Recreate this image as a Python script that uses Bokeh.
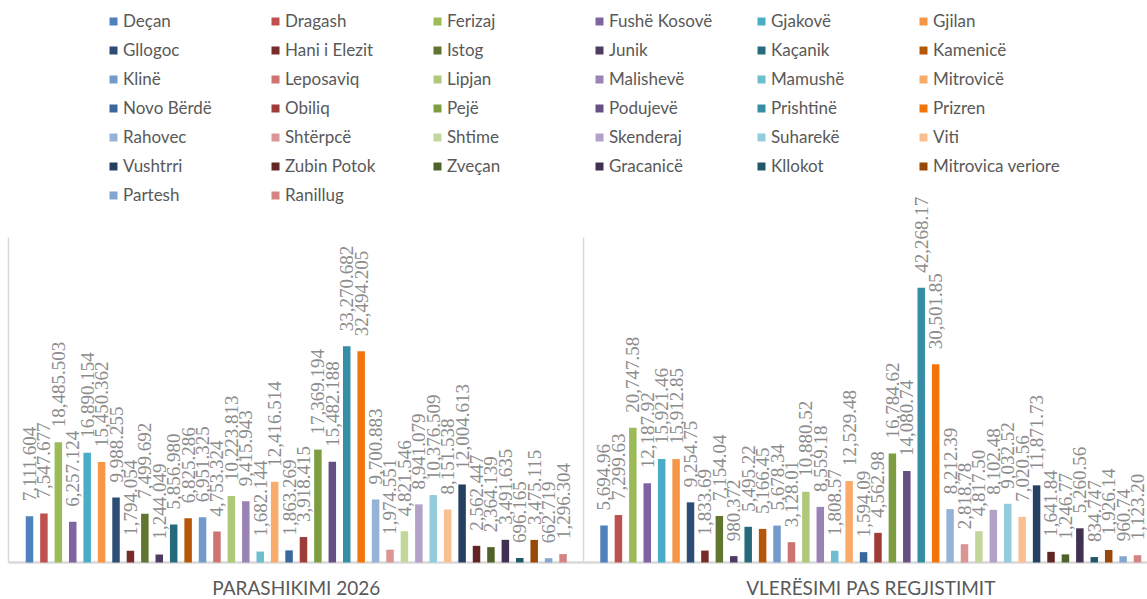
import colorsys
from bokeh.plotting import figure
from bokeh.models import ColumnDataSource, Range1d, Legend, LegendItem, LabelSet
from bokeh.core.properties import value
from bokeh.embed import file_html
from bokeh.resources import INLINE

# ---------------- data ----------------
municipalities = ["Deçan", "Dragash", "Ferizaj", "Fushë Kosovë", "Gjakovë", "Gjilan",
                  "Gllogoc", "Hani i Elezit", "Istog", "Junik", "Kaçanik", "Kamenicë",
                  "Klinë", "Leposaviq", "Lipjan", "Malishevë", "Mamushë", "Mitrovicë",
                  "Novo Bërdë", "Obiliq", "Pejë", "Podujevë", "Prishtinë", "Prizren",
                  "Rahovec", "Shtërpcë", "Shtime", "Skenderaj", "Suharekë", "Viti",
                  "Vushtrri", "Zubin Potok", "Zveçan", "Gracanicë", "Kllokot",
                  "Mitrovica veriore", "Partesh", "Ranillug"]

groups = ["PARASHIKIMI 2026", "VLERËSIMI PAS REGJISTIMIT"]

parashikimi_2026 = [7111.604, 7547.677, 18485.503, 6257.124, 16890.154, 15450.362,
                    9988.255, 1794.054, 7499.692, 1244.049, 5856.980, 6825.286,
                    6951.325, 4753.324, 10223.813, 9415.943, 1682.144, 12416.514,
                    1863.269, 3918.415, 17369.194, 15482.188, 33270.682, 32494.205,
                    9700.883, 1974.551, 4821.546, 8941.079, 10376.509, 8151.538,
                    12004.613, 2562.447, 2364.139, 3491.635, 696.165, 3475.115,
                    662.719, 1296.304]

vleresimi_pas_regjistrimit = [5694.96, 7299.63, 20747.58, 12187.92, 15921.46, 15912.85,
                              9254.75, 1833.69, 7154.04, 980.372, 5495.22, 5166.45,
                              5678.34, 3128.01, 10880.52, 8559.18, 1808.57, 12529.48,
                              1594.09, 4562.98, 16784.62, 14080.74, 42268.17, 30501.85,
                              8212.39, 2818.78, 4817.50, 8102.48, 9032.52, 7020.56,
                              11871.73, 1641.84, 1246.77, 5260.56, 834.747, 1926.14,
                              960.74, 1123.20]

# decimals shown in the data labels
decimals_2026 = [3] * 38
decimals_pas = [2, 2, 2, 2, 2, 2, 2, 2, 2, 3, 2, 2, 2, 2, 2, 2, 2, 2, 2,
                2, 2, 2, 2, 2, 2, 2, 2, 2, 2, 2, 2, 2, 2, 2, 3, 2, 2, 2]

# ---------------- style ----------------
ACCENTS = ["#4F81BD", "#C0504D", "#9BBB59", "#8064A2", "#4BACC6", "#F79646"]
VARIANTS = [(1.0, 0.0), (0.6, 0.0), (0.8, 0.2), (0.8, 0.0), (0.6, 0.4), (0.5, 0.0), (0.7, 0.3)]


def theme_color(i):
    hx = ACCENTS[i % 6]
    mod, off = VARIANTS[i // 6]
    r, g, b = (int(hx[k:k + 2], 16) / 255 for k in (1, 3, 5))
    h, l, s = colorsys.rgb_to_hls(r, g, b)
    l = min(1.0, l * mod + off)
    r, g, b = colorsys.hls_to_rgb(h, l, s)
    return "#%02x%02x%02x" % (round(r * 255), round(g * 255), round(b * 255))


FONT = "Lato"
LABEL_GREY = "#8c8c8c"
TEXT_GREY = "#595959"
LINE_GREY = "#d9d9d9"

W, H = 1147, 599
BASE_PX = 562                     # pixel row of the value 0
PX_PER_UNIT_Y = 325 / 50000       # 0..50000 spans 325 px
Y_MAX = 50000
Y_BOTTOM = -(H - BASE_PX) / PX_PER_UNIT_Y
Y_TOP = BASE_PX / PX_PER_UNIT_Y

n = len(municipalities)
GROUP2_START = n + 1.84
PX_PER_SLOT = 14.42
X_START = -29 / PX_PER_SLOT
X_END = X_START + W / PX_PER_SLOT
X_LEFT_LINE = X_START + 8 / PX_PER_SLOT

p = figure(width=W, height=H, output_backend="svg", toolbar_location=None,
           x_range=Range1d(X_START, X_END), y_range=Range1d(Y_BOTTOM, Y_TOP),
           x_axis_location=None, y_axis_location=None,
           min_border_left=0, min_border_right=0, min_border_top=0, min_border_bottom=0)
p.grid.visible = False
p.outline_line_color = None
p.background_fill_color = "white"
p.border_fill_color = "white"

# vertical lines: left edge and group separator, plus the base line
sep = (n - 1 + GROUP2_START) / 2
p.segment(x0=[X_LEFT_LINE, sep], y0=[0, 0], x1=[X_LEFT_LINE, sep], y1=[Y_MAX, Y_MAX],
          line_color=LINE_GREY, line_width=1.5)
p.segment(x0=[X_LEFT_LINE], y0=[0], x1=[X_END], y1=[0], line_color=LINE_GREY, line_width=2.5)

items = []
lab_x, lab_y, lab_t = [], [], []
for i, name in enumerate(municipalities):
    xs = [i, GROUP2_START + i]
    tops = [parashikimi_2026[i], vleresimi_pas_regjistrimit[i]]
    src = ColumnDataSource(dict(x=xs, top=tops))
    r = p.vbar(x="x", top="top", width=0.52, bottom=0, source=src,
               fill_color=theme_color(i), line_color=None)
    items.append(LegendItem(label=name, renderers=[r]))
    lab_x += xs
    lab_y += tops
    lab_t += [f"{parashikimi_2026[i]:,.{decimals_2026[i]}f}",
              f"{vleresimi_pas_regjistrimit[i]:,.{decimals_pas[i]}f}"]

labels = LabelSet(x="x", y="y", text="t", source=ColumnDataSource(dict(x=lab_x, y=lab_y, t=lab_t)),
                  angle=1.5707963, text_align="left", text_baseline="middle",
                  y_offset=15, text_font=FONT, text_font_size="19px", text_color=LABEL_GREY)
p.add_layout(labels)

# group (category) names under the base line
c1 = (n - 1) / 2
c2 = GROUP2_START + (n - 1) / 2
p.text(x=[c1, c2], y=[-25 / PX_PER_UNIT_Y] * 2, text=groups,
       text_align="center", text_baseline="middle", text_font=value(FONT),
       text_font_size="19px", text_color=TEXT_GREY)

legend = Legend(items=items, ncols=6, orientation="horizontal", location=(108, H - 205),
                label_text_font=FONT, label_text_font_size="17px", label_text_color=TEXT_GREY,
                glyph_width=10, glyph_height=10, label_standoff=5, label_width=139,
                label_height=21, spacing=8, padding=2, margin=0,
                border_line_color=None, background_fill_alpha=0)
p.add_layout(legend)

open("out.html", "w").write(file_html(p, INLINE))
